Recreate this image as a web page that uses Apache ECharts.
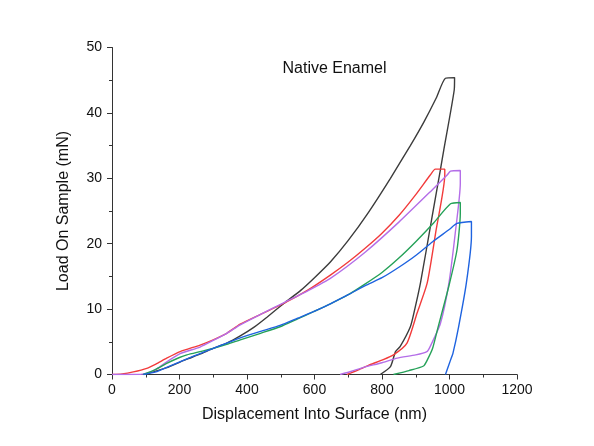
<!DOCTYPE html>
<html>
<head>
<meta charset="utf-8">
<script src="https://cdn.jsdelivr.net/npm/echarts@6/dist/echarts.min.js"></script>
<style>
  html, body { margin: 0; padding: 0; background: #ffffff; }
  #chart { width: 594px; height: 446px; }
</style>
</head>
<body>
<div id="chart"></div>
<script>
// Nanoindentation load–displacement curves (loading, hold, unloading), one per indent.
const xTicks = [0, 200, 400, 600, 800, 1000, 1200];
const yTicks = [0, 10, 20, 30, 40, 50];

const blackDisp = [95, 160, 220, 260, 300, 340, 380, 420, 460, 510, 560, 600, 647, 700, 760, 825, 884, 924, 960, 988, 1015, 1014, 983, 973, 948, 914, 895, 884, 854, 840, 825, 795];
const blackLoad = [0, 1.0, 2.3, 3.1, 4.0, 4.8, 5.9, 7.2, 8.8, 10.9, 12.9, 14.8, 17.2, 20.5, 24.8, 30.0, 35.0, 38.6, 42.2, 45.3, 45.4, 43.5, 34.3, 31.3, 24.0, 14.0, 9.5, 7.3, 4.3, 3.5, 1.2, 0];

const redDisp = [0, 30, 63, 103, 130, 162, 202, 261, 300, 340, 380, 440, 510, 580, 647, 700, 750, 800, 850, 900, 943, 958, 986, 986, 960, 934, 904, 874, 834, 800, 765, 730, 696];
const redLoad = [0, 0.1, 0.4, 0.95, 1.6, 2.5, 3.5, 4.5, 5.3, 6.3, 7.7, 9.2, 10.9, 12.9, 15.2, 17.2, 19.3, 21.6, 24.3, 27.5, 30.5, 31.4, 31.4, 30.5, 22.0, 14.0, 9.4, 4.8, 3.0, 2.2, 1.5, 0.7, 0];

const purpleDisp = [0, 50, 90, 120, 142, 170, 202, 261, 300, 340, 380, 440, 510, 580, 647, 750, 850, 950, 993, 1003, 1032, 1032, 1017, 998, 973, 943, 933, 900, 845, 800, 746, 710, 676];
const purpleLoad = [0, 0, 0.05, 0.5, 1.2, 2.2, 3.2, 4.2, 5.2, 6.3, 7.6, 9.2, 11.0, 12.8, 14.7, 18.7, 23.3, 28.3, 30.5, 31.1, 31.2, 29.2, 21.6, 13.9, 7.8, 4.3, 3.5, 3.0, 2.5, 1.8, 1.1, 0.5, 0];

const greenDisp = [93, 130, 162, 200, 222, 261, 300, 340, 380, 440, 498, 550, 597, 647, 700, 746, 800, 850, 900, 950, 1003, 1032, 1032, 1022, 998, 965, 950, 934, 923, 880, 834];
const greenLoad = [0, 0.8, 1.7, 2.6, 3.0, 3.5, 4.0, 4.6, 5.3, 6.3, 7.3, 8.5, 9.6, 10.8, 12.2, 13.7, 15.6, 17.8, 20.3, 23.0, 26.1, 26.3, 24.6, 19.0, 13.5, 7.0, 4.0, 2.2, 1.3, 0.6, 0];

const blueDisp = [93, 130, 162, 222, 261, 300, 340, 380, 440, 498, 550, 597, 647, 700, 755, 800, 850, 900, 950, 1000, 1022, 1065, 1065, 1050, 1027, 1010, 1003, 988];
const blueLoad = [0, 0.4, 1.1, 2.4, 3.2, 4.0, 4.8, 5.6, 6.6, 7.5, 8.6, 9.6, 10.8, 12.2, 13.7, 14.8, 16.4, 18.2, 20.3, 22.2, 23.1, 23.4, 21.1, 14.0, 7.3, 3.2, 2.2, 0];

const curves = [
  { name: 'Indent 1', disp: blackDisp, load: blackLoad, color: '#3c3c3c' },
  { name: 'Indent 2', disp: redDisp, load: redLoad, color: '#f23b3b' },
  { name: 'Indent 3', disp: purpleDisp, load: purpleLoad, color: '#b46ee8' },
  { name: 'Indent 4', disp: greenDisp, load: greenLoad, color: '#25a158' },
  { name: 'Indent 5', disp: blueDisp, load: blueLoad, color: '#1e63e0' }
];

const font = 'Liberation Sans, Arial, sans-serif';
const axisColor = '#333333';

const chart = echarts.init(document.getElementById('chart'), null, { renderer: 'canvas' });

chart.setOption({
  backgroundColor: '#ffffff',
  animation: false,
  grid: { left: 112, right: 77, top: 47.5, bottom: 71.5, containLabel: false },
  graphic: [{
    type: 'text',
    x: 334.5,
    y: 69,
    style: {
      text: 'Native Enamel',
      fill: '#111111',
      font: '16px ' + font,
      textAlign: 'center',
      textVerticalAlign: 'middle'
    }
  }],
  xAxis: {
    type: 'value',
    min: xTicks[0],
    max: xTicks[xTicks.length - 1],
    interval: 200,
    name: 'Displacement Into Surface (nm)',
    nameLocation: 'middle',
    nameGap: 32,
    nameTextStyle: { fontFamily: font, fontSize: 16, color: '#111111' },
    axisLine: { show: true, onZero: false, lineStyle: { color: axisColor, width: 1 } },
    axisTick: { show: true, inside: false, length: 5, lineStyle: { color: axisColor } },
    minorTick: { show: true, splitNumber: 2, length: 3, lineStyle: { color: axisColor } },
    axisLabel: { fontFamily: font, fontSize: 14, color: '#111111', margin: 9, formatter: v => String(v) },
    splitLine: { show: false }
  },
  yAxis: {
    type: 'value',
    min: yTicks[0],
    max: yTicks[yTicks.length - 1],
    interval: 10,
    name: 'Load On Sample (mN)',
    nameLocation: 'middle',
    nameGap: 40,
    nameTextStyle: { fontFamily: font, fontSize: 16, color: '#111111' },
    axisLine: { show: true, onZero: false, lineStyle: { color: axisColor, width: 1 } },
    axisTick: { show: true, inside: false, length: 5, lineStyle: { color: axisColor } },
    minorTick: { show: true, splitNumber: 2, length: 3, lineStyle: { color: axisColor } },
    axisLabel: { fontFamily: font, fontSize: 14, color: '#111111', margin: 10, formatter: v => String(v) },
    splitLine: { show: false }
  },
  series: curves.map(c => ({
    name: c.name,
    type: 'line',
    showSymbol: false,
    symbol: 'none',
    smooth: 0.2,
    clip: true,
    lineStyle: { color: c.color, width: 1.4 },
    data: c.disp.map((d, i) => [d, c.load[i]])
  }))
});
</script>
</body>
</html>
